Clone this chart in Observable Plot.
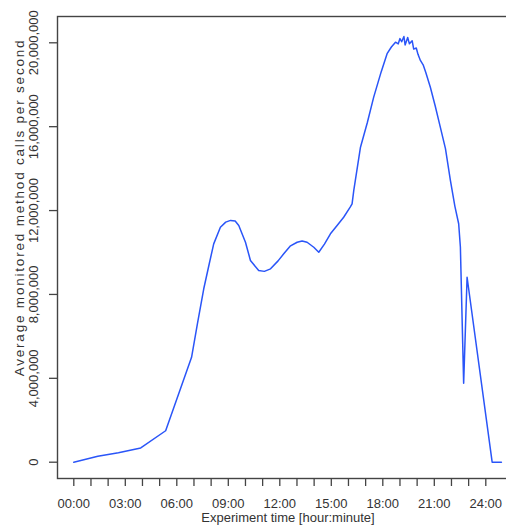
<!DOCTYPE html>
<html><head><meta charset="utf-8">
<script src="https://cdn.jsdelivr.net/npm/d3@7"></script>
<script src="https://cdn.jsdelivr.net/npm/@observablehq/plot@0.6"></script>
<style>body{margin:0;background:#fff} #chart{width:506px;height:528px;overflow:hidden} .ytitle text{letter-spacing:1.8px}</style>
</head><body><div id="chart"></div>
<script>
// experiment time in hours
const hours = [0, 1.4, 2.6, 3.9, 5.35, 6.86, 7.2, 7.57, 7.9, 8.15, 8.54, 8.85, 9.13, 9.4, 9.61, 10.0, 10.29, 10.77, 11.1, 11.46, 11.9, 12.23, 12.6, 13.01, 13.3, 13.59, 13.98, 14.27, 14.6, 14.95, 15.35, 15.72, 16.1, 16.21, 16.31, 16.7, 17.1, 17.47, 17.9, 18.25, 18.5, 18.74, 18.9, 19.0, 19.1, 19.23, 19.3, 19.45, 19.55, 19.71, 19.8, 19.95, 20.05, 20.19, 20.35, 20.5, 20.77, 21.05, 21.35, 21.65, 21.94, 22.2, 22.42, 22.52, 22.71, 22.91, 24.37, 24.91];
// average monitored method calls per second, in millions
const calls = [0, 0.28, 0.45, 0.68, 1.5, 5.0, 6.6, 8.27, 9.5, 10.41, 11.2, 11.45, 11.53, 11.5, 11.29, 10.49, 9.62, 9.14, 9.1, 9.22, 9.6, 9.94, 10.3, 10.49, 10.55, 10.49, 10.25, 10.01, 10.4, 10.89, 11.3, 11.68, 12.16, 12.32, 12.96, 15.02, 16.2, 17.41, 18.6, 19.48, 19.8, 20.03, 19.95, 20.2, 20.05, 20.3, 19.9, 20.25, 19.95, 20.1, 19.7, 19.75, 19.45, 19.16, 18.95, 18.6, 17.88, 17.0, 15.98, 14.95, 13.43, 12.2, 11.37, 10.25, 3.77, 8.82, 0, 0];
const xTicks = d3.range(0, 25);
const yTicks = [0, 4, 8, 12, 16, 20];
const xTitle = "Experiment time [hour:minute]";
const yTitle = "Average monitored method calls per second";

const data = hours.map((h, i) => ({h, v: calls[i]}));
const fmtX = h => h % 3 === 0 ? String(h).padStart(2, "0") + ":00" : "";
const fmtY = v => d3.format(",")(v * 1e6);
const ink = "#333";

const chart = Plot.plot({
  width: 506, height: 528,
  marginLeft: 57, marginTop: 16, marginBottom: 50, marginRight: -12,
  x: {domain: [0, 24], range: [73.3, 485.3]},
  y: {domain: [0, 20], range: [461.7, 42.3]},
  style: {fontFamily: "'Liberation Sans', Arial, sans-serif", fontSize: "13px", color: ink, background: "#fff", overflow: "hidden"},
  marks: [
    Plot.frame({stroke: "#444", strokeWidth: 1.4}),
    Plot.line(data, {x: "h", y: "v", stroke: "#2a55f8", strokeWidth: 1.5}),
    Plot.axisX({ticks: xTicks, tickSize: 8, tickPadding: 12, tickFormat: fmtX, label: null, stroke: "#444", fill: ink, strokeWidth: 1.3}),
    Plot.axisY({ticks: yTicks, tickSize: 8, tickFormat: () => "", label: null, stroke: "#444", strokeWidth: 1.3}),
    Plot.text(yTicks, {y: d => d, text: fmtY, frameAnchor: "left", dx: -24, rotate: -90, textAnchor: "middle", fill: ink}),
    Plot.text([xTitle], {frameAnchor: "bottom", dy: 43, textAnchor: "middle", fill: ink}),
    Plot.text([yTitle], {frameAnchor: "left", dx: -38, dy: -40, rotate: -90, textAnchor: "middle", fill: ink, fontSize: 13.5, className: "ytitle"})
  ]
});
document.getElementById("chart").append(chart);
</script>
</body></html>
